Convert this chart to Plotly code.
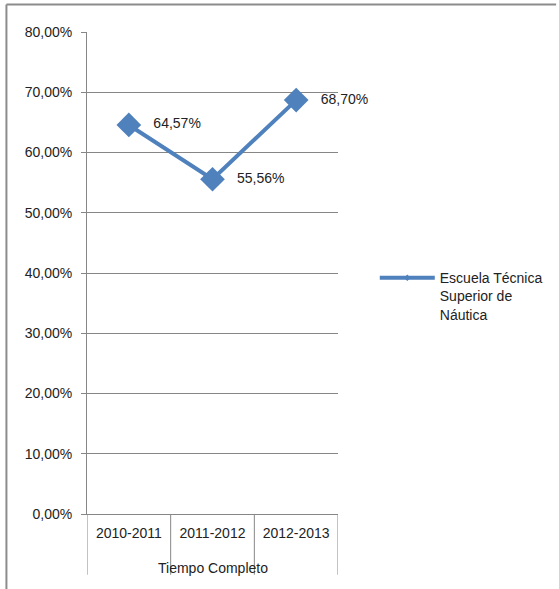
import plotly.graph_objects as go

# datos
cursos = ["2010-2011", "2011-2012", "2012-2013"]
porcentajes = [0.6457, 0.5556, 0.6870]
etiquetas = ["64,57%", "55,56%", "68,70%"]
serie = "Escuela Técnica<br>Superior de<br>Náutica"
grupo = "Tiempo Completo"
y_ticks = [0.0, 0.1, 0.2, 0.3, 0.4, 0.5, 0.6, 0.7, 0.8]
y_labels = ["0,00%", "10,00%", "20,00%", "30,00%", "40,00%",
            "50,00%", "60,00%", "70,00%", "80,00%"]

azul = "#4F81BD"
gris = "#868686"
texto = "#222222"
fuente = "Liberation Sans"

fig = go.Figure()

# serie principal (sin leyenda, marcadores grandes)
fig.add_trace(go.Scatter(
    x=[0, 1, 2], y=porcentajes,
    mode="lines+markers+text",
    line=dict(color=azul, width=4),
    marker=dict(symbol="diamond", size=19, color=azul),
    text=["   " + t for t in etiquetas],
    textposition="middle right",
    textfont=dict(family=fuente, size=14, color=texto),
    showlegend=False,
    cliponaxis=False,
))

# entrada de leyenda con marcador pequeño
fig.add_trace(go.Scatter(
    x=[None], y=[None],
    mode="lines+markers",
    line=dict(color=azul, width=4),
    marker=dict(symbol="diamond", size=5, color=azul),
    name=serie,
))

# separadores de categorías bajo el eje
for xb in [-0.5, 0.5, 1.5, 2.5]:
    fig.add_shape(type="line", xref="x", yref="paper",
                  x0=xb, x1=xb, y0=0, y1=-0.126,
                  line=dict(color=gris, width=1))

# marco exterior (arriba e izquierda)
fig.add_shape(type="line", xref="paper", yref="paper",
              x0=-0.321, x1=1.869, y0=1.057, y1=1.057,
              line=dict(color="#8c8c8c", width=2))
fig.add_shape(type="line", xref="paper", yref="paper",
              x0=-0.321, x1=-0.321, y0=1.057, y1=-0.16,
              line=dict(color="#8c8c8c", width=2))

fig.add_annotation(text=grupo, x=1, xref="x", y=-0.112, yref="paper",
                   showarrow=False, yanchor="middle",
                   font=dict(family=fuente, size=14, color=texto))

fig.update_xaxes(
    range=[-0.5, 2.5],
    tickmode="array", tickvals=[0, 1, 2], ticktext=cursos,
    showgrid=False, zeroline=False,
    showline=True, linecolor=gris, linewidth=1,
    ticks="", ticklabelstandoff=6,
    tickfont=dict(family=fuente, size=14, color=texto),
)
fig.update_yaxes(
    range=[0, 0.8],
    tickmode="array", tickvals=y_ticks, ticktext=y_labels,
    showgrid=True, gridcolor=gris, gridwidth=1,
    zeroline=False,
    showline=True, linecolor=gris, linewidth=1,
    ticks="outside", ticklen=5, tickcolor=gris,
    ticklabelstandoff=6,
    tickfont=dict(family=fuente, size=14, color=texto),
)

fig.update_layout(
    width=559, height=589,
    margin=dict(l=87, r=220, t=32, b=75),
    paper_bgcolor="white", plot_bgcolor="white",
    legend=dict(x=1.142, y=0.452, xanchor="left", yanchor="middle",
                itemwidth=55, valign="top",
                font=dict(family=fuente, size=14, color=texto),
                bgcolor="rgba(0,0,0,0)"),
)

fig.write_html("out.html", config={"displayModeBar": False},
               post_script="document.body.style.margin='0';")
